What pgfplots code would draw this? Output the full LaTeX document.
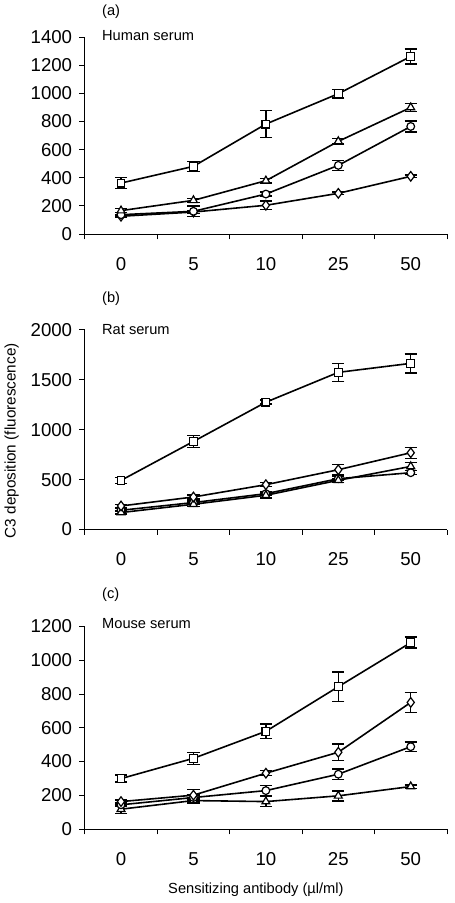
\documentclass[border=0pt]{standalone}
\usepackage{fontspec}
\setmainfont{Liberation Sans}
\usepackage{pgfplots}
\pgfplotsset{compat=1.18}
\pgfplotsset{
  panel/.style={
    scale only axis, width=272pt, anchor=south west,
    xmin=-0.5, xmax=4.5, xtick={0,...,4}, xticklabels={0,5,10,25,50},
    minor xtick={-0.5,0.5,1.5,2.5,3.5,4.5},
    axis x line*=bottom, axis y line*=left,
    axis line style={line width=0.6pt, -},
    tick align=outside, major tick length=4pt, minor tick length=4pt,
    major x tick style={draw=none},
    every tick/.style={black, line width=0.6pt},
    ymin=0, clip=false,
    tick label style={font=\fontsize{14}{15}\selectfont},
    /pgf/number format/assume math mode=true,
    scaled y ticks=false,
    yticklabel style={/pgf/number format/1000 sep={}, xshift=-2pt},
    xticklabel style={yshift=-10pt},
  },
  s/.style={black, line width=1.2pt, mark options={fill=white, solid, line width=0.9pt},
    error bars/y dir=both, error bars/y explicit,
    error bars/error bar style={line width=1.1pt},
    error bars/error mark options={rotate=90, mark size=4.6pt, line width=1.1pt}},
  sq/.style={s, mark=square*, mark size=2.9pt},
  tr/.style={s, mark=triangle*, mark size=3.4pt},
  ci/.style={s, mark=*, mark size=2.9pt},
  di/.style={s, mark=diamond*, mark size=3.6pt},
}
\begin{document}
\begin{tikzpicture}
\path (0,0) rectangle (339pt,-677.25pt);
% (a)
\begin{axis}[panel, at={(61.5pt,-174.75pt)}, height=147.75pt, ymax=1400, ytick={0,200,...,1400}]
\addplot[sq] coordinates {(0,362) +- (0,40) (1,481) +- (0,35) (2,782) +- (0,97) (3,998) +- (0,30) (4,1263) +- (0,53)};
\addplot[di] coordinates {(0,126) +- (0,10) (1,156) +- (0,10) (2,204) +- (0,30) (3,289) +- (0,10) (4,410) +- (0,10)};
\addplot[ci] coordinates {(0,137) +- (0,15) (1,161) +- (0,37) (2,284) +- (0,15) (3,488) +- (0,35) (4,765) +- (0,40)};
\addplot[tr] coordinates {(0,166) +- (0,15) (1,239) +- (0,15) (2,379) +- (0,15) (3,659) +- (0,20) (4,900) +- (0,30)};
\end{axis}
% (b)
\begin{axis}[panel, at={(61.5pt,-396.75pt)}, height=150pt, ymax=2000, ytick={0,500,...,2000}]
\addplot[sq] coordinates {(0,492) +- (0,30) (1,882) +- (0,58) (2,1275) +- (0,20) (3,1574) +- (0,90) (4,1664) +- (0,95)};
\addplot[ci] coordinates {(0,193) +- (0,15) (1,270) +- (0,15) (2,359) +- (0,20) (3,509) +- (0,20) (4,569) +- (0,20)};
\addplot[tr] coordinates {(0,170) +- (0,15) (1,253) +- (0,20) (2,343) +- (0,25) (3,493) +- (0,20) (4,632) +- (0,40)};
\addplot[di] coordinates {(0,236) +- (0,15) (1,326) +- (0,20) (2,449) +- (0,20) (3,599) +- (0,53) (4,769) +- (0,55)};
\end{axis}
% (c)
\begin{axis}[panel, at={(61.5pt,-621.75pt)}, height=152.25pt, ymax=1200, ytick={0,200,...,1200}]
\addplot[sq] coordinates {(0,299) +- (0,20) (1,419) +- (0,35) (2,579) +- (0,43) (3,843) +- (0,88) (4,1104) +- (0,33)};
\addplot[tr] coordinates {(0,118) +- (0,25) (1,169) +- (0,15) (2,163) +- (0,30) (3,197) +- (0,30) (4,252) +- (0,10)};
\addplot[ci] coordinates {(0,144) +- (0,10) (1,187) +- (0,15) (2,228) +- (0,30) (3,325) +- (0,30) (4,488) +- (0,27)};
\addplot[di] coordinates {(0,163) +- (0,10) (1,201) +- (0,34) (2,331) +- (0,15) (3,455) +- (0,50) (4,750) +- (0,59)};
\end{axis}
\node[anchor=west, font=\fontsize{11}{12}\selectfont] at (71pt,-7.5pt) {(a)};
\node[anchor=west, font=\fontsize{11}{12}\selectfont] at (71pt,-25.5pt) {Human serum};
\node[anchor=west, font=\fontsize{11}{12}\selectfont] at (71pt,-223.5pt) {(b)};
\node[anchor=west, font=\fontsize{11}{12}\selectfont] at (71pt,-246.75pt) {Rat serum};
\node[anchor=west, font=\fontsize{11}{12}\selectfont] at (71pt,-445.5pt) {(c)};
\node[anchor=west, font=\fontsize{11}{12}\selectfont] at (71pt,-467.25pt) {Mouse serum};
\node[rotate=90, font=\fontsize{11.5}{12}\selectfont] at (6.5pt,-330pt) {C3 deposition (fluorescence)};
\node[font=\fontsize{11}{12}\selectfont] at (190pt,-667.5pt) {Sensitizing antibody (µl/ml)};
\end{tikzpicture}
\end{document}
